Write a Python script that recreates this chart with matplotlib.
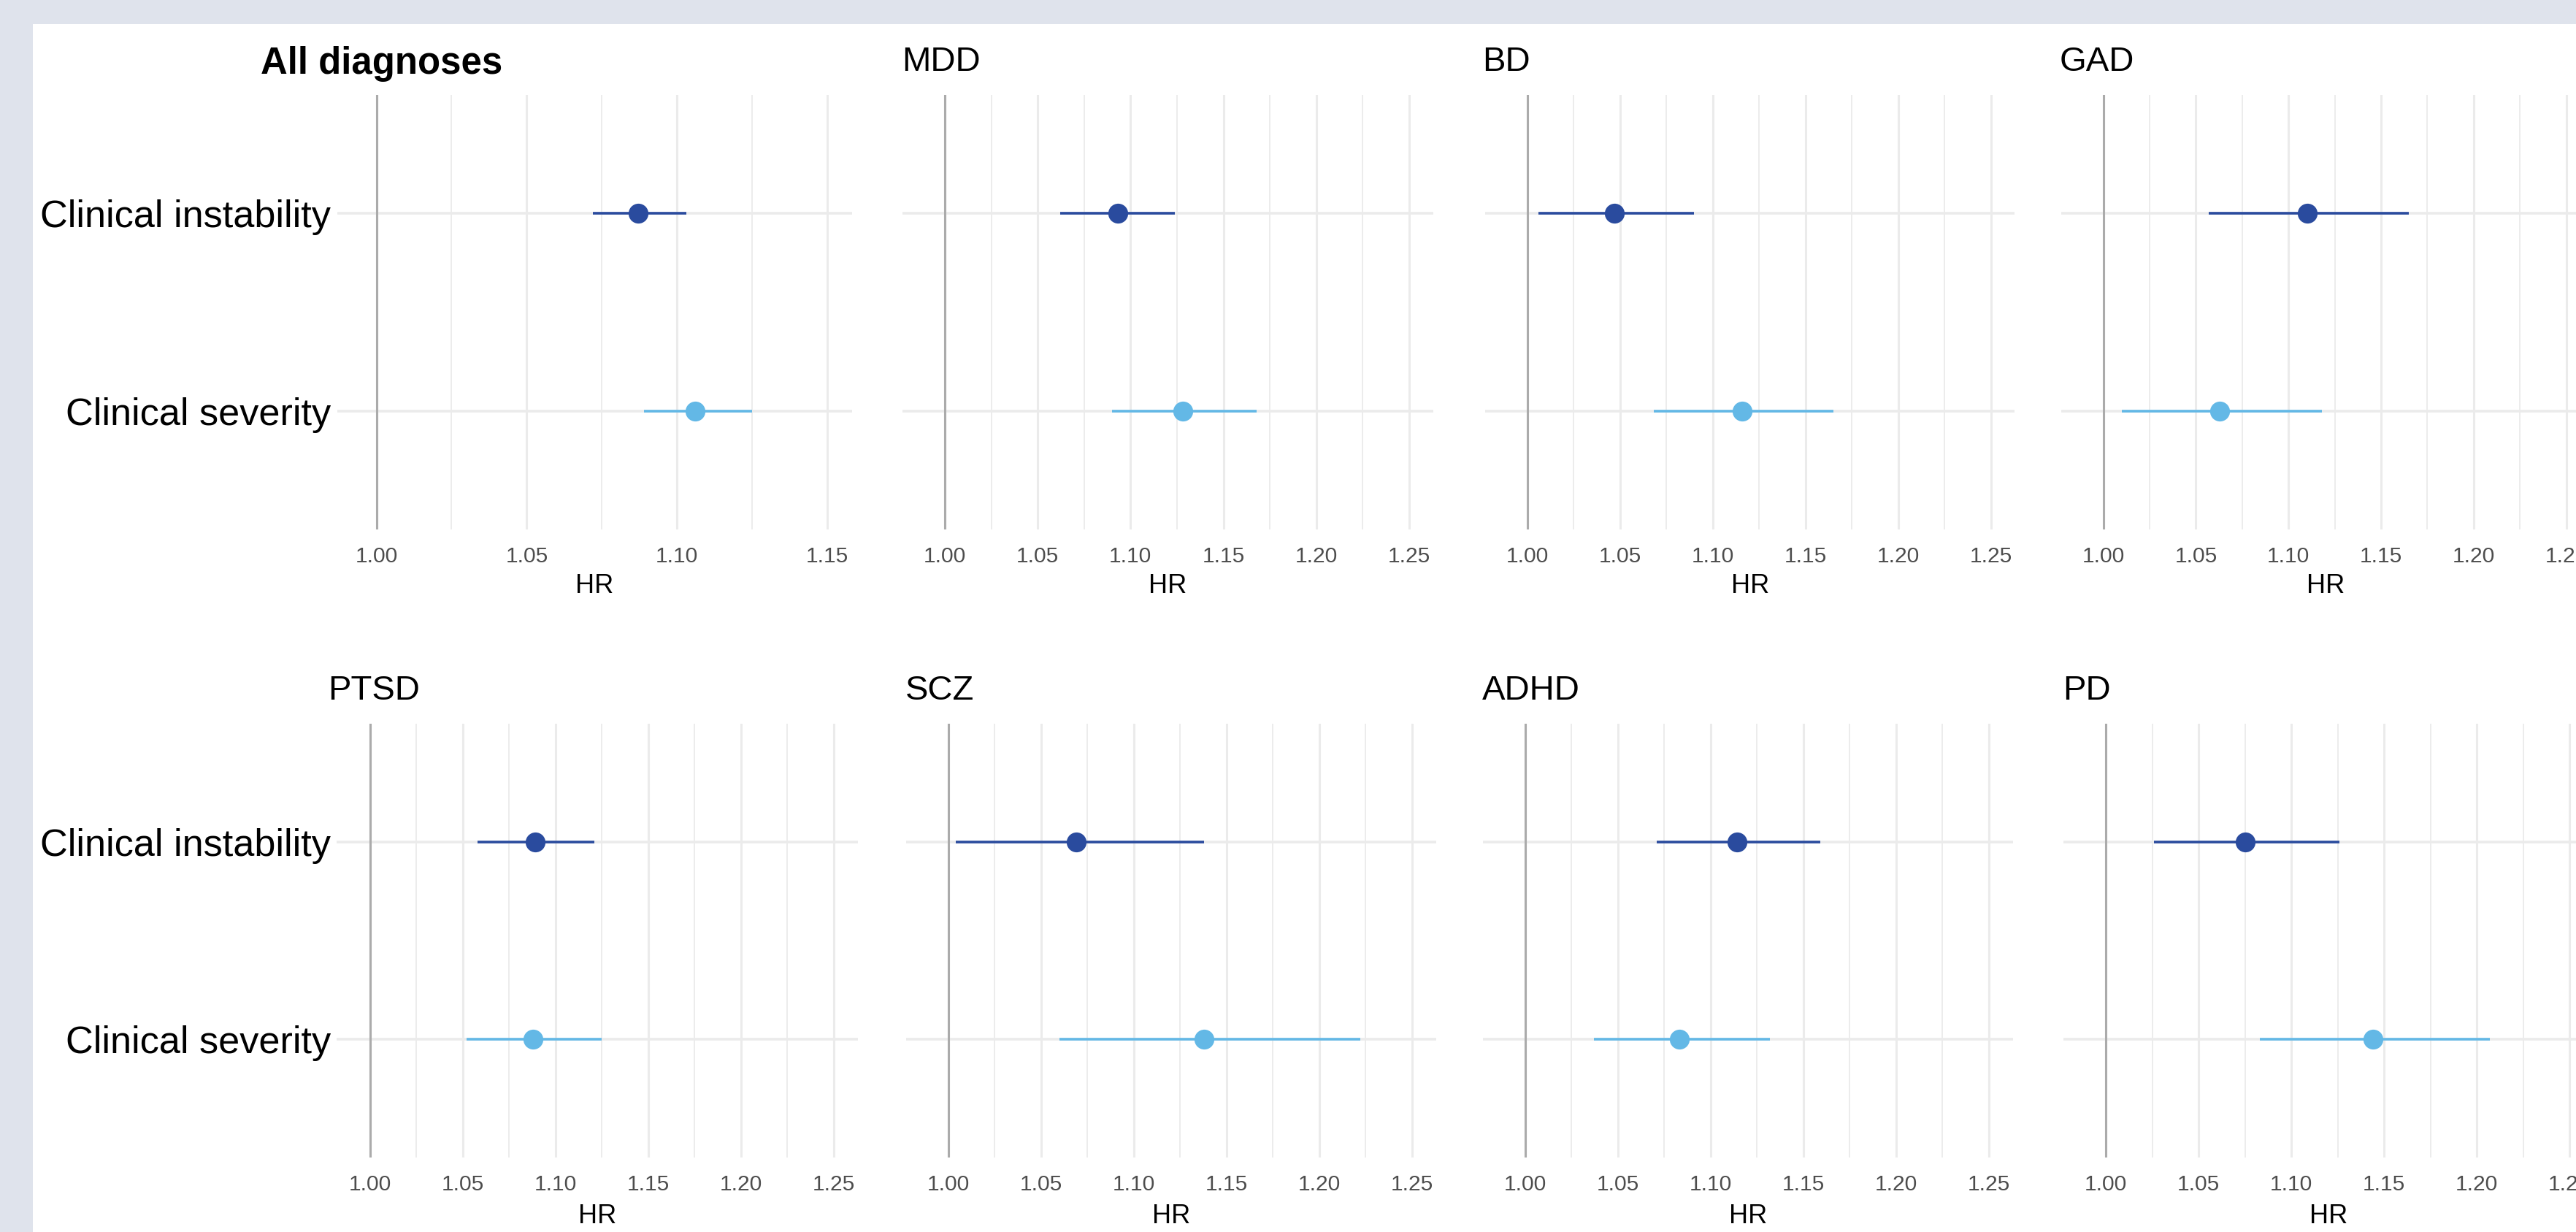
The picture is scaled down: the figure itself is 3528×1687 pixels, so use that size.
import matplotlib
matplotlib.use("Agg")
import matplotlib.pyplot as plt
from matplotlib.ticker import MultipleLocator, FormatStrFormatter
from matplotlib.patches import Rectangle
from matplotlib.transforms import blended_transform_factory

# ---------------- data ----------------
diagnoses = ["All diagnoses", "MDD", "BD", "GAD", "PTSD", "SCZ", "ADHD", "PD"]
predictors = ["Clinical instability", "Clinical severity"]

instab_hr = [1.087, 1.093, 1.047, 1.110, 1.089, 1.069, 1.114, 1.075]
instab_lo = [1.072, 1.062, 1.006, 1.057, 1.058, 1.004, 1.071, 1.026]
instab_hi = [1.103, 1.124, 1.090, 1.165, 1.121, 1.138, 1.159, 1.126]

sev_hr = [1.106, 1.128, 1.116, 1.063, 1.088, 1.138, 1.083, 1.144]
sev_lo = [1.089, 1.090, 1.068, 1.010, 1.052, 1.060, 1.037, 1.083]
sev_hi = [1.125, 1.168, 1.165, 1.118, 1.125, 1.222, 1.132, 1.207]

x_limits = [(0.9869, 1.1583), (0.9772, 1.2628), (0.9772, 1.2628), (0.9772, 1.2628),
            (0.9819, 1.2628), (0.9772, 1.2628), (0.9772, 1.2628), (0.9772, 1.2628)]

# ---------------- layout (pixels) ----------------
W, H = 3528, 1687
DPI = 200
lefts = [461.6, 1235.9, 2034.1, 2822.8, 461.0, 1241.0, 2031.0, 2826.4]
rights = [1167.4, 1962.5, 2759.2, 3547.0, 1174.5, 1966.5, 2756.5, 3551.8]
row_top = [130, 991]
row_bot = [725, 1585]
title_x = [356.6, 1235.0, 2030.0, 2821.0, 449.5, 1239.5, 2029.5, 2825.5]
title_base = [101, 97, 97, 97, 958, 958, 958, 958]
hr_base = [812, 1675]

col_instab = "#2A4B9E"
col_sev = "#63B8E6"
grid_col = "#EBEBEB"

plt.rcParams['font.family'] = ['Liberation Sans', 'DejaVu Sans']

fig = plt.figure(figsize=(W / DPI, H / DPI), dpi=DPI, facecolor="#DFE3EC")
fig.patches.append(Rectangle((45 / W, 0), 1 - 45 / W, 1 - 33 / H,
                             transform=fig.transFigure, facecolor="white",
                             edgecolor="none", zorder=-10))

for i, name in enumerate(diagnoses):
    row = 0 if i < 4 else 1
    l, r = lefts[i], rights[i]
    t, b = row_top[row], row_bot[row]
    ax = fig.add_axes([l / W, 1 - b / H, (r - l) / W, (b - t) / H])
    ax.set_facecolor("none")
    for s in ax.spines.values():
        s.set_visible(False)
    ax.set_xlim(*x_limits[i])
    ax.set_ylim(2.6, 0.4)

    ax.xaxis.set_major_locator(MultipleLocator(0.05))
    ax.xaxis.set_minor_locator(MultipleLocator(0.025))
    ax.xaxis.set_major_formatter(FormatStrFormatter("%.2f"))
    ax.grid(which="major", axis="x", color=grid_col, lw=1.1)
    ax.grid(which="minor", axis="x", color=grid_col, lw=0.65)
    ax.set_yticks([1, 2])
    ax.grid(which="major", axis="y", color=grid_col, lw=1.3)
    ax.set_axisbelow(True)

    ax.tick_params(axis="x", which="both", length=0, pad=8.3,
                   labelsize=10.8, labelcolor="#4D4D4D")
    ax.tick_params(axis="y", which="both", length=0, pad=3.0,
                   labelsize=18.8, labelcolor="black")
    if i % 4 == 0:
        ax.set_yticklabels(predictors)
    else:
        ax.set_yticklabels(["", ""])

    ax.axvline(1.0, color="#ABABAB", lw=1.1, zorder=1.5)

    ys = [1, 2]
    hrs = [instab_hr[i], sev_hr[i]]
    los = [instab_lo[i], sev_lo[i]]
    his = [instab_hi[i], sev_hi[i]]
    cols = [col_instab, col_sev]
    for y, hr, lo, hi, c in zip(ys, hrs, los, his, cols):
        ax.hlines(y, lo, hi, color=c, lw=1.3, zorder=3)
        ax.plot([hr], [y], "o", ms=9.8, color=c, mec="none", zorder=4)

    trans = blended_transform_factory(ax.transAxes, fig.transFigure)
    ax.text(0.5, 1 - hr_base[row] / H, "HR", transform=trans, ha="center",
            va="baseline", fontsize=13, color="black")

    fig.text(title_x[i] / W, 1 - title_base[i] / H, name, ha="left",
             va="baseline", fontsize=18.3 if i == 0 else 17,
             fontweight="bold" if i == 0 else "normal", color="black")

fig.savefig("out.png", dpi=DPI, facecolor=fig.get_facecolor())
